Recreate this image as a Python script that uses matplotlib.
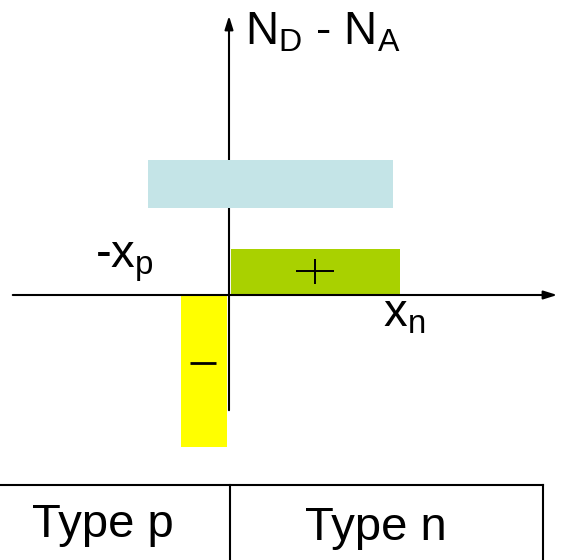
import matplotlib.pyplot as plt

plt.rcParams['font.family'] = ['Liberation Sans', 'DejaVu Sans']
plt.rcParams['mathtext.fontset'] = 'custom'
plt.rcParams['mathtext.rm'] = 'Liberation Sans'
plt.rcParams['mathtext.it'] = 'Liberation Sans'

# doping blocks (x from origin, y = N_D - N_A, arbitrary units)
block_names = ['bulk', 'donor', 'acceptor']
block_left = [-82, 1, -49]
block_right = [163, 170, -3]
block_bottom = [87, 0, -152]
block_top = [135, 46, -1]
block_colors = ['#c4e4e7', '#a9d100', '#ffff00']
block_z = [4, 1, 1]

# charge signs
sign_x = [85, -27]
sign_y = [24, -68]

# labels
axis_label = r'$\mathrm{N_D}$ - $\mathrm{N_A}$'
xp_label = r'-$\mathrm{x_p}$'
xn_label = r'$\mathrm{x_n}$'
type_labels = ['Type p', 'Type n']
type_x = [-127, 146]

fig = plt.figure(figsize=(5.61, 5.60), dpi=100)
ax = fig.add_axes([0, 0, 1, 1])
ax.set_xlim(-230, 331)
ax.set_ylim(-265, 295)
ax.axis('off')

for l, r, b, t, c, z in zip(block_left, block_right, block_bottom, block_top, block_colors, block_z):
    ax.bar(l, t - b, width=r - l, bottom=b, align='edge', color=c, linewidth=0, zorder=z)

# axes with arrows
ax.annotate('', xy=(330, 0), xytext=(-220, 0),
            arrowprops=dict(arrowstyle='-|>,head_length=0.8,head_width=0.25', lw=1.5, color='black'), zorder=3)
ax.annotate('', xy=(-1, 282), xytext=(-1, -118),
            arrowprops=dict(arrowstyle='-|>,head_length=0.8,head_width=0.25', lw=1.5, color='black'), zorder=3)

# + and - signs
ax.plot(sign_x[0], sign_y[0], marker='_', markersize=27, mew=1.4, color='black', zorder=5)
ax.plot(sign_x[0], sign_y[0], marker='|', markersize=18, mew=1.4, color='black', zorder=5)
ax.plot(sign_x[1], sign_y[1], marker='_', markersize=19, mew=2, color='black', zorder=5)

ax.text(15, 285, axis_label, fontsize=33, va='top', ha='left')
ax.text(-135, 28, xp_label, fontsize=34, va='baseline', ha='left')
ax.text(153, -32, xn_label, fontsize=34, va='baseline', ha='left')

# bottom table
ax.plot([-230, 313], [-190, -190], color='black', lw=1.5)
ax.plot([0, 0], [-190, -265], color='black', lw=1.5)
ax.plot([313, 313], [-190, -265], color='black', lw=1.5)
ax.text(type_x[0], -242, type_labels[0], fontsize=34, ha='center', va='baseline')
ax.text(type_x[1], -245, type_labels[1], fontsize=34, ha='center', va='baseline')

fig.savefig('out.png', dpi=100)
